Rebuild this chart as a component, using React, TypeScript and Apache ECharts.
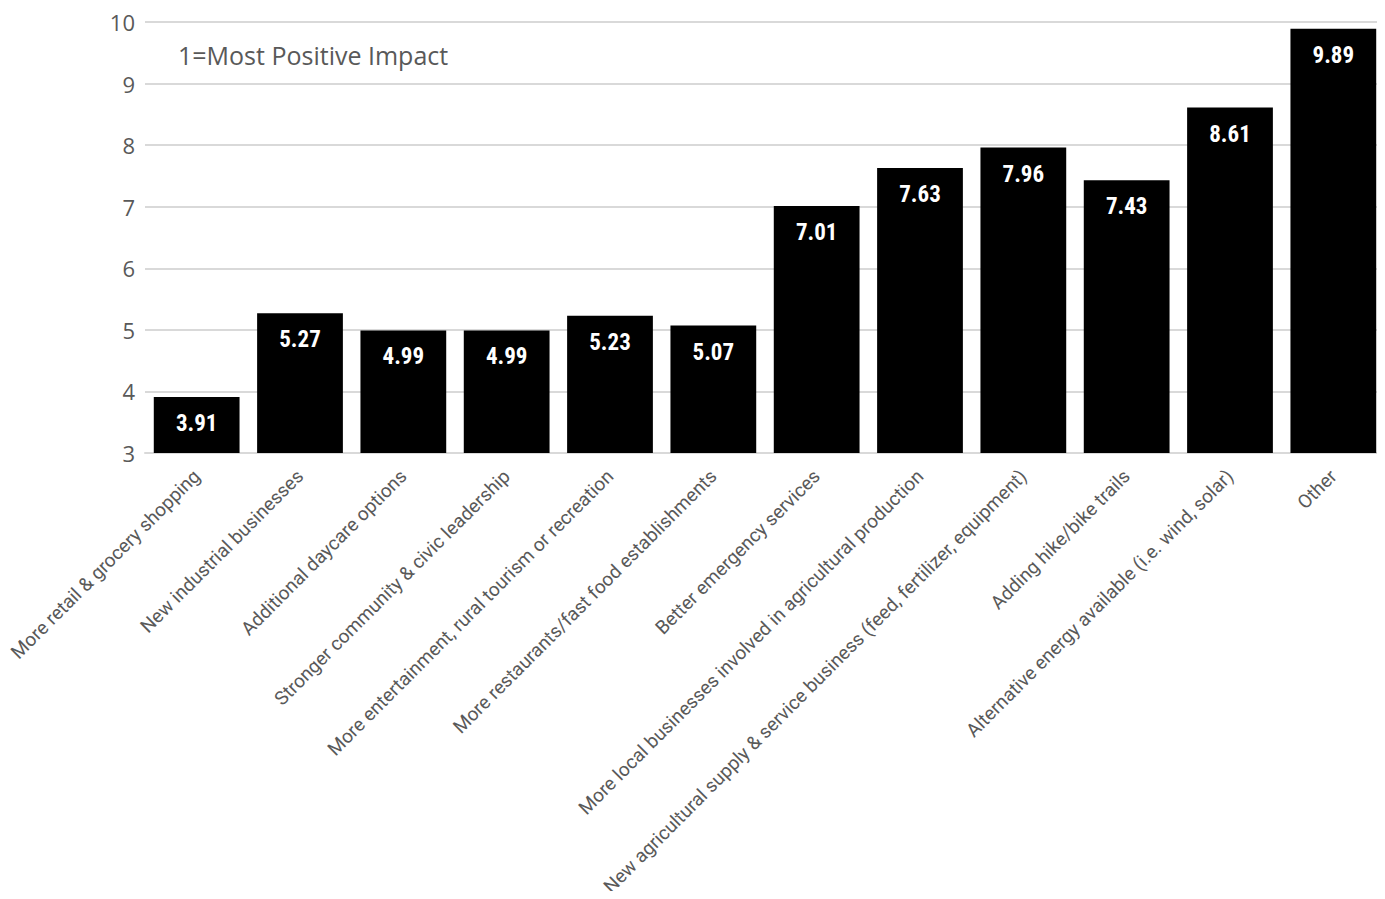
import React, { useEffect, useRef } from "react";
import * as echarts from "echarts";

const categories = [
  "More retail & grocery shopping",
  "New industrial businesses",
  "Additional daycare options",
  "Stronger community & civic leadership",
  "More entertainment, rural tourism or recreation",
  "More restaurants/fast food establishments",
  "Better emergency services",
  "More local businesses involved in agricultural production",
  "New agricultural supply & service business (feed, fertilizer, equipment)",
  "Adding hike/bike trails",
  "Alternative energy available (i.e. wind, solar)",
  "Other",
];
const values = [3.91, 5.27, 4.99, 4.99, 5.23, 5.07, 7.01, 7.63, 7.96, 7.43, 8.61, 9.89];
const yTicks = [3, 4, 5, 6, 7, 8, 9, 10];
const noteText = "1=Most Positive Impact";

export default function App() {
  const ref = useRef<HTMLDivElement>(null);
  useEffect(() => {
    if (!ref.current) return;
    const chart = echarts.init(ref.current, undefined, { renderer: "svg" });
    chart.setOption({
      animation: false,
      grid: { left: 145, right: 0, top: 22, bottom: 446, containLabel: false },
      graphic: [
        {
          type: "text",
          left: 178,
          top: 42,
          style: {
            text: noteText,
            fill: "#595959",
            fontSize: 25,
            fontFamily: "'Open Sans', 'DejaVu Sans', sans-serif",
          },
        },
      ],
      xAxis: {
        type: "category",
        data: categories,
        axisLine: { lineStyle: { color: "#d9d9d9", width: 2 } },
        axisTick: { show: false },
        axisLabel: {
          rotate: 45,
          interval: 0,
          color: "#595959",
          fontSize: 19,
          margin: 20,
          fontFamily: "Roboto, 'Liberation Sans', sans-serif",
        },
      },
      yAxis: {
        type: "value",
        min: yTicks[0],
        max: yTicks[yTicks.length - 1],
        interval: 1,
        axisLine: { show: false },
        axisTick: { show: false },
        splitLine: { lineStyle: { color: "#d9d9d9", width: 2 } },
        axisLabel: {
          color: "#595959",
          fontSize: 22,
          margin: 10,
          fontFamily: "'Open Sans', 'DejaVu Sans', sans-serif",
        },
      },
      series: [
        {
          type: "bar",
          data: values,
          barCategoryGap: "17%",
          itemStyle: { color: "#000000" },
          label: {
            show: true,
            position: "insideTop",
            distance: 15,
            color: "#ffffff",
            fontSize: 23,
            fontWeight: "bold",
            fontFamily: "'Roboto Condensed', 'Liberation Sans Narrow', 'DejaVu Sans Condensed', Roboto, sans-serif",
            formatter: (p: any) => p.value.toFixed(2),
          },
        },
      ],
    });
    return () => chart.dispose();
  }, []);
  return <div ref={ref} style={{ width: 1385, height: 899, margin: -8 }} />;
}
